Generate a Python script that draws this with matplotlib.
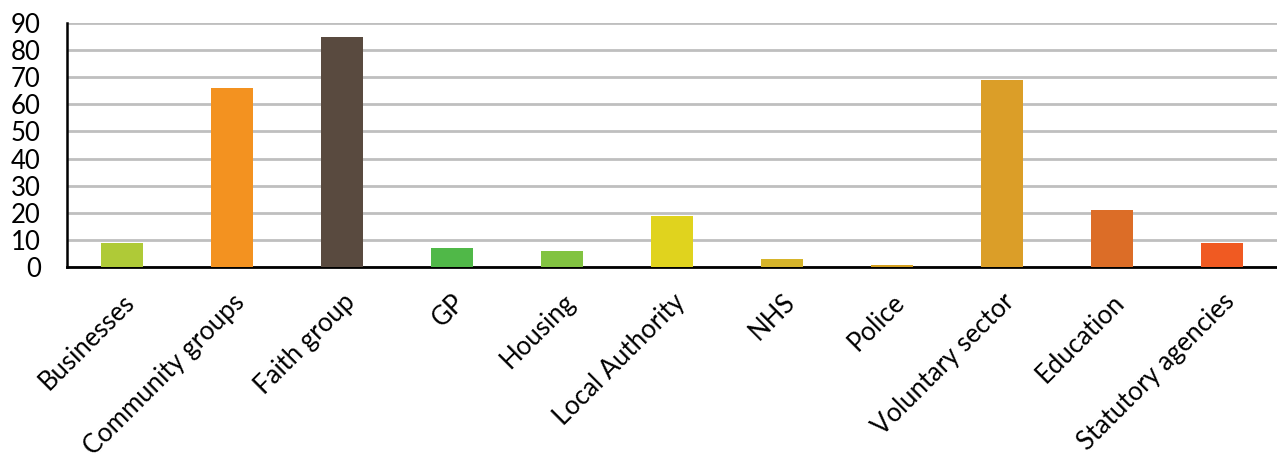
import matplotlib.pyplot as plt

categories = ["Businesses", "Community groups", "Faith group", "GP", "Housing",
              "Local Authority", "NHS", "Police", "Voluntary sector", "Education",
              "Statutory agencies"]
values = [9, 66, 85, 7, 6, 19, 3, 0.7, 69, 21, 9]
colors = ["#AFCA37", "#F39220", "#594A3F", "#50B848", "#82C341", "#E0D31E",
          "#D6B42A", "#D4A020", "#DB9E28", "#DC6D27", "#F05A22"]
yticks = list(range(0, 91, 10))

plt.rcParams["font.family"] = ["Lato", "DejaVu Sans"]

fig = plt.figure(figsize=(12.77, 4.66), dpi=100)
ax = fig.add_axes([0.0525, 0.427, 0.9475, 0.5236])

x = range(len(categories))
ax.bar(x, values, width=0.39, color=colors, linewidth=0, zorder=3)

ax.set_xlim(-0.5, len(categories) - 0.5)
ax.set_ylim(0, 90)
ax.set_yticks(yticks)
ax.set_yticklabels([str(v) for v in yticks], fontsize=18.5)
ax.set_xticks(list(x))
ax.set_xticklabels(categories, fontsize=18.5, rotation=45, ha="right",
                   rotation_mode="anchor")

ax.grid(axis="y", color="#BFBFBF", linewidth=2, zorder=0)
ax.tick_params(axis="both", length=0)
ax.tick_params(axis="y", pad=19)
ax.tick_params(axis="x", pad=16)

for side in ["top", "right"]:
    ax.spines[side].set_visible(False)
ax.spines["left"].set_linewidth(1.8)
ax.spines["bottom"].set_linewidth(2)
ax.spines["left"].set_zorder(4)
ax.spines["bottom"].set_zorder(2)

fig.savefig("out.png", dpi=100)
